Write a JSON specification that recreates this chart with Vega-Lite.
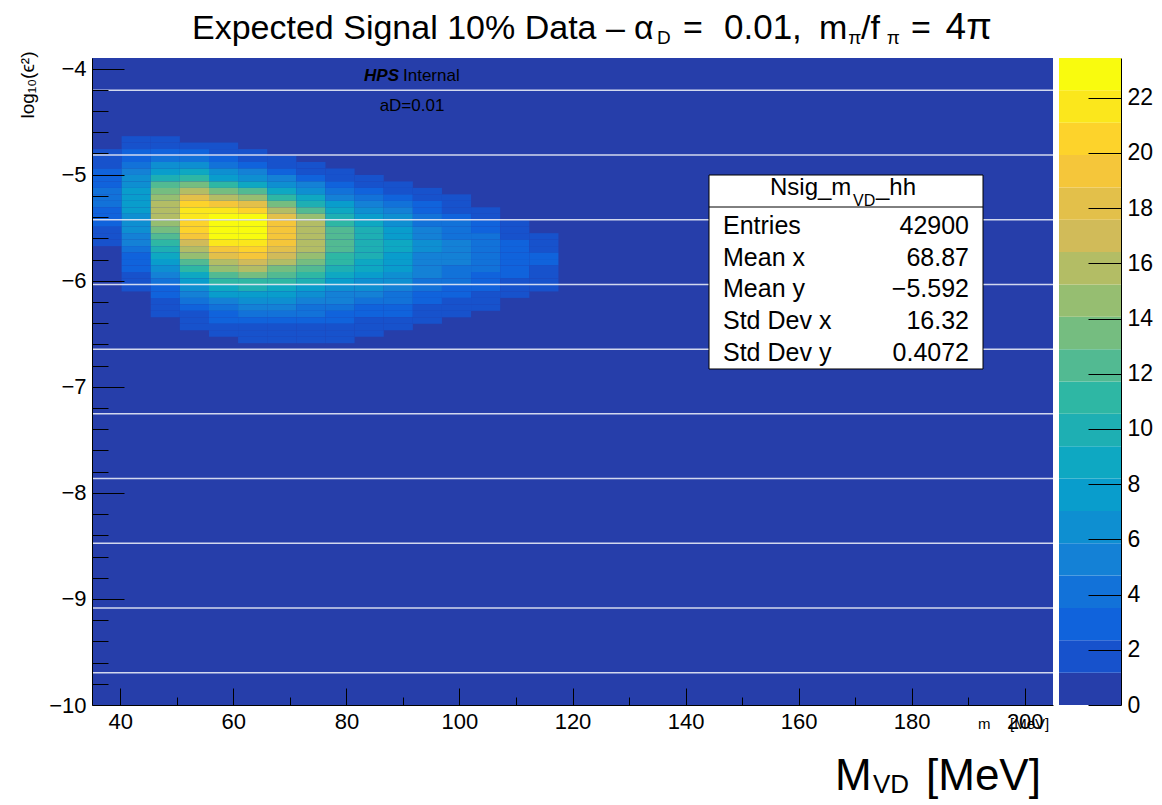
{
  "$schema": "https://vega.github.io/schema/vega-lite/v6.json",
  "width": 961,
  "height": 647,
  "autosize": "none",
  "padding": {"left": 92, "top": 58, "right": 109, "bottom": 100},
  "background": "white",
  "config": {
    "view": {"fill": "#263eaa", "stroke": null},
    "axis": {
      "grid": false, "domainColor": "#000", "domainWidth": 1, "tickColor": "#000", "tickWidth": 1,
      "labelColor": "#000", "labelFont": "Liberation Sans", "labelFontSize": 22,
      "labelOverlap": false, "labelFlush": false, "labelBound": false,
      "titleFont": "Liberation Sans", "titleColor": "#000"
    },
    "text": {"font": "Liberation Sans", "color": "#000"}
  },
  "datasets": {
    "nsig": [
      {"m":37.576,"e":-4.7845,"n":1.31},{"m":37.576,"e":-4.8455,"n":1.73},{"m":37.576,"e":-4.9065,"n":2.20},{"m":37.576,"e":-4.9675,"n":2.68},{"m":37.576,"e":-5.0285,"n":3.12},{"m":37.576,"e":-5.0895,"n":3.48},{"m":37.576,"e":-5.1505,"n":3.72},{"m":37.576,"e":-5.2115,"n":3.80},{"m":37.576,"e":-5.2725,"n":3.72},{"m":37.576,"e":-5.3335,"n":3.49},{"m":37.576,"e":-5.3945,"n":3.14},{"m":37.576,"e":-5.4555,"n":2.71},{"m":37.576,"e":-5.5165,"n":2.23},{"m":37.576,"e":-5.5775,"n":1.77},{"m":37.576,"e":-5.6385,"n":1.35},
      {"m":42.727,"e":-4.6625,"n":1.30},{"m":42.727,"e":-4.7235,"n":1.89},{"m":42.727,"e":-4.7845,"n":2.61},{"m":42.727,"e":-4.8455,"n":3.47},{"m":42.727,"e":-4.9065,"n":4.41},{"m":42.727,"e":-4.9675,"n":5.36},{"m":42.727,"e":-5.0285,"n":6.25},{"m":42.727,"e":-5.0895,"n":6.97},{"m":42.727,"e":-5.1505,"n":7.44},{"m":42.727,"e":-5.2115,"n":7.60},{"m":42.727,"e":-5.2725,"n":7.53},{"m":42.727,"e":-5.3335,"n":7.31},{"m":42.727,"e":-5.3945,"n":6.97},{"m":42.727,"e":-5.4555,"n":6.51},{"m":42.727,"e":-5.5165,"n":5.97},{"m":42.727,"e":-5.5775,"n":5.36},{"m":42.727,"e":-5.6385,"n":4.73},{"m":42.727,"e":-5.6995,"n":4.09},{"m":42.727,"e":-5.7605,"n":3.47},{"m":42.727,"e":-5.8215,"n":2.89},{"m":42.727,"e":-5.8825,"n":2.36},{"m":42.727,"e":-5.9435,"n":1.89},{"m":42.727,"e":-6.0045,"n":1.48},{"m":42.727,"e":-6.0655,"n":1.20},
      {"m":47.879,"e":-4.6625,"n":1.41},{"m":47.879,"e":-4.7235,"n":2.19},{"m":47.879,"e":-4.7845,"n":3.23},{"m":47.879,"e":-4.8455,"n":4.58},{"m":47.879,"e":-4.9065,"n":6.22},{"m":47.879,"e":-4.9675,"n":8.07},{"m":47.879,"e":-5.0285,"n":10.04},{"m":47.879,"e":-5.0895,"n":11.95},{"m":47.879,"e":-5.1505,"n":13.61},{"m":47.879,"e":-5.2115,"n":14.85},{"m":47.879,"e":-5.2725,"n":15.52},{"m":47.879,"e":-5.3335,"n":15.56},{"m":47.879,"e":-5.3945,"n":15.26},{"m":47.879,"e":-5.4555,"n":14.68},{"m":47.879,"e":-5.5165,"n":13.86},{"m":47.879,"e":-5.5775,"n":12.82},{"m":47.879,"e":-5.6385,"n":11.64},{"m":47.879,"e":-5.6995,"n":10.36},{"m":47.879,"e":-5.7605,"n":9.05},{"m":47.879,"e":-5.8215,"n":7.75},{"m":47.879,"e":-5.8825,"n":6.51},{"m":47.879,"e":-5.9435,"n":5.37},{"m":47.879,"e":-6.0045,"n":4.34},{"m":47.879,"e":-6.0655,"n":3.44},{"m":47.879,"e":-6.1265,"n":2.67},{"m":47.879,"e":-6.1875,"n":2.04},{"m":47.879,"e":-6.2485,"n":1.52},{"m":47.879,"e":-6.3095,"n":1.20},
      {"m":53.030,"e":-4.7235,"n":1.93},{"m":53.030,"e":-4.7845,"n":2.98},{"m":53.030,"e":-4.8455,"n":4.42},{"m":53.030,"e":-4.9065,"n":6.26},{"m":53.030,"e":-4.9675,"n":8.49},{"m":53.030,"e":-5.0285,"n":11.02},{"m":53.030,"e":-5.0895,"n":13.70},{"m":53.030,"e":-5.1505,"n":16.31},{"m":53.030,"e":-5.2115,"n":18.59},{"m":53.030,"e":-5.2725,"n":20.28},{"m":53.030,"e":-5.3335,"n":21.18},{"m":53.030,"e":-5.3945,"n":21.25},{"m":53.030,"e":-5.4555,"n":20.84},{"m":53.030,"e":-5.5165,"n":20.05},{"m":53.030,"e":-5.5775,"n":18.92},{"m":53.030,"e":-5.6385,"n":17.51},{"m":53.030,"e":-5.6995,"n":15.89},{"m":53.030,"e":-5.7605,"n":14.15},{"m":53.030,"e":-5.8215,"n":12.36},{"m":53.030,"e":-5.8825,"n":10.58},{"m":53.030,"e":-5.9435,"n":8.89},{"m":53.030,"e":-6.0045,"n":7.33},{"m":53.030,"e":-6.0655,"n":5.92},{"m":53.030,"e":-6.1265,"n":4.69},{"m":53.030,"e":-6.1875,"n":3.65},{"m":53.030,"e":-6.2485,"n":2.78},{"m":53.030,"e":-6.3095,"n":2.08},{"m":53.030,"e":-6.3705,"n":1.53},{"m":53.030,"e":-6.4315,"n":1.20},
      {"m":58.182,"e":-4.7235,"n":1.25},{"m":58.182,"e":-4.7845,"n":1.90},{"m":58.182,"e":-4.8455,"n":2.90},{"m":58.182,"e":-4.9065,"n":4.30},{"m":58.182,"e":-4.9675,"n":5.90},{"m":58.182,"e":-5.0285,"n":7.98},{"m":58.182,"e":-5.0895,"n":10.59},{"m":58.182,"e":-5.1505,"n":13.46},{"m":58.182,"e":-5.2115,"n":16.37},{"m":58.182,"e":-5.2725,"n":19.07},{"m":58.182,"e":-5.3335,"n":21.27},{"m":58.182,"e":-5.3945,"n":22.70},{"m":58.182,"e":-5.4555,"n":23.20},{"m":58.182,"e":-5.5165,"n":22.98},{"m":58.182,"e":-5.5775,"n":22.32},{"m":58.182,"e":-5.6385,"n":21.27},{"m":58.182,"e":-5.6995,"n":19.87},{"m":58.182,"e":-5.7605,"n":18.21},{"m":58.182,"e":-5.8215,"n":16.37},{"m":58.182,"e":-5.8825,"n":14.44},{"m":58.182,"e":-5.9435,"n":12.49},{"m":58.182,"e":-6.0045,"n":10.59},{"m":58.182,"e":-6.0655,"n":8.81},{"m":58.182,"e":-6.1265,"n":7.19},{"m":58.182,"e":-6.1875,"n":5.76},{"m":58.182,"e":-6.2485,"n":4.52},{"m":58.182,"e":-6.3095,"n":3.48},{"m":58.182,"e":-6.3705,"n":2.63},{"m":58.182,"e":-6.4315,"n":1.95},{"m":58.182,"e":-6.4925,"n":1.41},
      {"m":63.333,"e":-4.7845,"n":1.32},{"m":63.333,"e":-4.8455,"n":2.12},{"m":63.333,"e":-4.9065,"n":3.28},{"m":63.333,"e":-4.9675,"n":4.86},{"m":63.333,"e":-5.0285,"n":6.88},{"m":63.333,"e":-5.0895,"n":9.34},{"m":63.333,"e":-5.1505,"n":12.13},{"m":63.333,"e":-5.2115,"n":15.08},{"m":63.333,"e":-5.2725,"n":17.95},{"m":63.333,"e":-5.3335,"n":20.46},{"m":63.333,"e":-5.3945,"n":22.32},{"m":63.333,"e":-5.4555,"n":23.44},{"m":63.333,"e":-5.5165,"n":23.38},{"m":63.333,"e":-5.5775,"n":22.94},{"m":63.333,"e":-5.6385,"n":22.06},{"m":63.333,"e":-5.6995,"n":20.82},{"m":63.333,"e":-5.7605,"n":19.27},{"m":63.333,"e":-5.8215,"n":17.49},{"m":63.333,"e":-5.8825,"n":15.57},{"m":63.333,"e":-5.9435,"n":13.60},{"m":63.333,"e":-6.0045,"n":11.65},{"m":63.333,"e":-6.0655,"n":9.79},{"m":63.333,"e":-6.1265,"n":8.06},{"m":63.333,"e":-6.1875,"n":6.52},{"m":63.333,"e":-6.2485,"n":5.17},{"m":63.333,"e":-6.3095,"n":4.02},{"m":63.333,"e":-6.3705,"n":3.06},{"m":63.333,"e":-6.4315,"n":2.29},{"m":63.333,"e":-6.4925,"n":1.68},{"m":63.333,"e":-6.5535,"n":1.21},
      {"m":68.485,"e":-4.8455,"n":1.43},{"m":68.485,"e":-4.9065,"n":2.25},{"m":68.485,"e":-4.9675,"n":3.41},{"m":68.485,"e":-5.0285,"n":4.94},{"m":68.485,"e":-5.0895,"n":6.85},{"m":68.485,"e":-5.1505,"n":9.09},{"m":68.485,"e":-5.2115,"n":11.54},{"m":68.485,"e":-5.2725,"n":14.05},{"m":68.485,"e":-5.3335,"n":16.36},{"m":68.485,"e":-5.3945,"n":18.24},{"m":68.485,"e":-5.4555,"n":19.47},{"m":68.485,"e":-5.5165,"n":19.90},{"m":68.485,"e":-5.5775,"n":19.71},{"m":68.485,"e":-5.6385,"n":19.14},{"m":68.485,"e":-5.6995,"n":18.24},{"m":68.485,"e":-5.7605,"n":17.04},{"m":68.485,"e":-5.8215,"n":15.62},{"m":68.485,"e":-5.8825,"n":14.05},{"m":68.485,"e":-5.9435,"n":12.38},{"m":68.485,"e":-6.0045,"n":10.71},{"m":68.485,"e":-6.0655,"n":9.09},{"m":68.485,"e":-6.1265,"n":7.56},{"m":68.485,"e":-6.1875,"n":6.17},{"m":68.485,"e":-6.2485,"n":4.94},{"m":68.485,"e":-6.3095,"n":3.88},{"m":68.485,"e":-6.3705,"n":2.99},{"m":68.485,"e":-6.4315,"n":2.25},{"m":68.485,"e":-6.4925,"n":1.67},{"m":68.485,"e":-6.5535,"n":1.21},
      {"m":73.636,"e":-4.9065,"n":1.47},{"m":73.636,"e":-4.9675,"n":2.27},{"m":73.636,"e":-5.0285,"n":3.36},{"m":73.636,"e":-5.0895,"n":4.76},{"m":73.636,"e":-5.1505,"n":6.45},{"m":73.636,"e":-5.2115,"n":8.38},{"m":73.636,"e":-5.2725,"n":10.42},{"m":73.636,"e":-5.3335,"n":12.41},{"m":73.636,"e":-5.3945,"n":14.14},{"m":73.636,"e":-5.4555,"n":15.43},{"m":73.636,"e":-5.5165,"n":16.11},{"m":73.636,"e":-5.5775,"n":16.16},{"m":73.636,"e":-5.6385,"n":15.85},{"m":73.636,"e":-5.6995,"n":15.25},{"m":73.636,"e":-5.7605,"n":14.39},{"m":73.636,"e":-5.8215,"n":13.32},{"m":73.636,"e":-5.8825,"n":12.09},{"m":73.636,"e":-5.9435,"n":10.76},{"m":73.636,"e":-6.0045,"n":9.40},{"m":73.636,"e":-6.0655,"n":8.05},{"m":73.636,"e":-6.1265,"n":6.76},{"m":73.636,"e":-6.1875,"n":5.57},{"m":73.636,"e":-6.2485,"n":4.50},{"m":73.636,"e":-6.3095,"n":3.57},{"m":73.636,"e":-6.3705,"n":2.78},{"m":73.636,"e":-6.4315,"n":2.12},{"m":73.636,"e":-6.4925,"n":1.58},{"m":73.636,"e":-6.5535,"n":1.20},
      {"m":78.788,"e":-4.9675,"n":1.40},{"m":78.788,"e":-5.0285,"n":2.12},{"m":78.788,"e":-5.0895,"n":3.08},{"m":78.788,"e":-5.1505,"n":4.27},{"m":78.788,"e":-5.2115,"n":5.66},{"m":78.788,"e":-5.2725,"n":7.19},{"m":78.788,"e":-5.3335,"n":8.75},{"m":78.788,"e":-5.3945,"n":10.19},{"m":78.788,"e":-5.4555,"n":11.37},{"m":78.788,"e":-5.5165,"n":12.13},{"m":78.788,"e":-5.5775,"n":12.40},{"m":78.788,"e":-5.6385,"n":12.28},{"m":78.788,"e":-5.6995,"n":11.93},{"m":78.788,"e":-5.7605,"n":11.37},{"m":78.788,"e":-5.8215,"n":10.62},{"m":78.788,"e":-5.8825,"n":9.74},{"m":78.788,"e":-5.9435,"n":8.75},{"m":78.788,"e":-6.0045,"n":7.72},{"m":78.788,"e":-6.0655,"n":6.67},{"m":78.788,"e":-6.1265,"n":5.66},{"m":78.788,"e":-6.1875,"n":4.71},{"m":78.788,"e":-6.2485,"n":3.84},{"m":78.788,"e":-6.3095,"n":3.08},{"m":78.788,"e":-6.3705,"n":2.42},{"m":78.788,"e":-6.4315,"n":1.86},{"m":78.788,"e":-6.4925,"n":1.40},{"m":78.788,"e":-6.5535,"n":1.20},
      {"m":83.939,"e":-5.0285,"n":1.43},{"m":83.939,"e":-5.0895,"n":2.11},{"m":83.939,"e":-5.1505,"n":3.00},{"m":83.939,"e":-5.2115,"n":4.06},{"m":83.939,"e":-5.2725,"n":5.28},{"m":83.939,"e":-5.3335,"n":6.56},{"m":83.939,"e":-5.3945,"n":7.81},{"m":83.939,"e":-5.4555,"n":8.90},{"m":83.939,"e":-5.5165,"n":9.71},{"m":83.939,"e":-5.5775,"n":10.14},{"m":83.939,"e":-5.6385,"n":10.18},{"m":83.939,"e":-5.6995,"n":9.98},{"m":83.939,"e":-5.7605,"n":9.60},{"m":83.939,"e":-5.8215,"n":9.06},{"m":83.939,"e":-5.8825,"n":8.38},{"m":83.939,"e":-5.9435,"n":7.61},{"m":83.939,"e":-6.0045,"n":6.78},{"m":83.939,"e":-6.0655,"n":5.92},{"m":83.939,"e":-6.1265,"n":5.07},{"m":83.939,"e":-6.1875,"n":4.26},{"m":83.939,"e":-6.2485,"n":3.51},{"m":83.939,"e":-6.3095,"n":2.84},{"m":83.939,"e":-6.3705,"n":2.25},{"m":83.939,"e":-6.4315,"n":1.75},{"m":83.939,"e":-6.4925,"n":1.33},
      {"m":89.091,"e":-5.0895,"n":1.42},{"m":89.091,"e":-5.1505,"n":2.06},{"m":89.091,"e":-5.2115,"n":2.86},{"m":89.091,"e":-5.2725,"n":3.79},{"m":89.091,"e":-5.3335,"n":4.81},{"m":89.091,"e":-5.3945,"n":5.86},{"m":89.091,"e":-5.4555,"n":6.82},{"m":89.091,"e":-5.5165,"n":7.61},{"m":89.091,"e":-5.5775,"n":8.12},{"m":89.091,"e":-5.6385,"n":8.30},{"m":89.091,"e":-5.6995,"n":8.22},{"m":89.091,"e":-5.7605,"n":7.98},{"m":89.091,"e":-5.8215,"n":7.61},{"m":89.091,"e":-5.8825,"n":7.11},{"m":89.091,"e":-5.9435,"n":6.52},{"m":89.091,"e":-6.0045,"n":5.86},{"m":89.091,"e":-6.0655,"n":5.17},{"m":89.091,"e":-6.1265,"n":4.47},{"m":89.091,"e":-6.1875,"n":3.79},{"m":89.091,"e":-6.2485,"n":3.15},{"m":89.091,"e":-6.3095,"n":2.57},{"m":89.091,"e":-6.3705,"n":2.06},{"m":89.091,"e":-6.4315,"n":1.62},
      {"m":94.242,"e":-5.1505,"n":1.24},{"m":94.242,"e":-5.2115,"n":1.76},{"m":94.242,"e":-5.2725,"n":2.39},{"m":94.242,"e":-5.3335,"n":3.11},{"m":94.242,"e":-5.3945,"n":3.86},{"m":94.242,"e":-5.4555,"n":4.60},{"m":94.242,"e":-5.5165,"n":5.24},{"m":94.242,"e":-5.5775,"n":5.71},{"m":94.242,"e":-5.6385,"n":5.97},{"m":94.242,"e":-5.6995,"n":5.98},{"m":94.242,"e":-5.7605,"n":5.84},{"m":94.242,"e":-5.8215,"n":5.57},{"m":94.242,"e":-5.8825,"n":5.19},{"m":94.242,"e":-5.9435,"n":4.72},{"m":94.242,"e":-6.0045,"n":4.19},{"m":94.242,"e":-6.0655,"n":3.64},{"m":94.242,"e":-6.1265,"n":3.08},{"m":94.242,"e":-6.1875,"n":2.54},{"m":94.242,"e":-6.2485,"n":2.06},{"m":94.242,"e":-6.3095,"n":1.62},{"m":94.242,"e":-6.3705,"n":1.25},
      {"m":99.394,"e":-5.2115,"n":1.24},{"m":99.394,"e":-5.2725,"n":1.72},{"m":99.394,"e":-5.3335,"n":2.28},{"m":99.394,"e":-5.3945,"n":2.90},{"m":99.394,"e":-5.4555,"n":3.53},{"m":99.394,"e":-5.5165,"n":4.11},{"m":99.394,"e":-5.5775,"n":4.58},{"m":99.394,"e":-5.6385,"n":4.89},{"m":99.394,"e":-5.6995,"n":5.00},{"m":99.394,"e":-5.7605,"n":4.94},{"m":99.394,"e":-5.8215,"n":4.75},{"m":99.394,"e":-5.8825,"n":4.45},{"m":99.394,"e":-5.9435,"n":4.06},{"m":99.394,"e":-6.0045,"n":3.61},{"m":99.394,"e":-6.0655,"n":3.12},{"m":99.394,"e":-6.1265,"n":2.64},{"m":99.394,"e":-6.1875,"n":2.17},{"m":99.394,"e":-6.2485,"n":1.73},{"m":99.394,"e":-6.3095,"n":1.35},
      {"m":104.545,"e":-5.3335,"n":1.36},{"m":104.545,"e":-5.3945,"n":1.87},{"m":104.545,"e":-5.4555,"n":2.45},{"m":104.545,"e":-5.5165,"n":3.03},{"m":104.545,"e":-5.5775,"n":3.55},{"m":104.545,"e":-5.6385,"n":3.96},{"m":104.545,"e":-5.6995,"n":4.17},{"m":104.545,"e":-5.7605,"n":4.18},{"m":104.545,"e":-5.8215,"n":4.03},{"m":104.545,"e":-5.8825,"n":3.75},{"m":104.545,"e":-5.9435,"n":3.36},{"m":104.545,"e":-6.0045,"n":2.91},{"m":104.545,"e":-6.0655,"n":2.43},{"m":104.545,"e":-6.1265,"n":1.95},{"m":104.545,"e":-6.1875,"n":1.52},{"m":104.545,"e":-6.2485,"n":1.20},
      {"m":109.697,"e":-5.4555,"n":1.20},{"m":109.697,"e":-5.5165,"n":1.57},{"m":109.697,"e":-5.5775,"n":2.06},{"m":109.697,"e":-5.6385,"n":2.51},{"m":109.697,"e":-5.6995,"n":2.87},{"m":109.697,"e":-5.7605,"n":3.07},{"m":109.697,"e":-5.8215,"n":3.08},{"m":109.697,"e":-5.8825,"n":2.90},{"m":109.697,"e":-5.9435,"n":2.57},{"m":109.697,"e":-6.0045,"n":2.15},{"m":109.697,"e":-6.0655,"n":1.70},{"m":109.697,"e":-6.1265,"n":1.26},
      {"m":114.848,"e":-5.5775,"n":1.44},{"m":114.848,"e":-5.6385,"n":1.89},{"m":114.848,"e":-5.6995,"n":2.26},{"m":114.848,"e":-5.7605,"n":2.47},{"m":114.848,"e":-5.8215,"n":2.47},{"m":114.848,"e":-5.8825,"n":2.26},{"m":114.848,"e":-5.9435,"n":1.89},{"m":114.848,"e":-6.0045,"n":1.44},{"m":114.848,"e":-6.0655,"n":1.20}
    ],
    "seams": [
      {"s":-4.205},{"s":-4.815},{"s":-5.425},{"s":-6.035},{"s":-6.645},
      {"s":-7.255},{"s":-7.865},{"s":-8.475},{"s":-9.085},{"s":-9.695}
    ],
    "bands": [
      {"z0":0,"z1":1.172},{"z0":1.172,"z1":2.344},{"z0":2.344,"z1":3.516},{"z0":3.516,"z1":4.688},
      {"z0":4.688,"z1":5.86},{"z0":5.86,"z1":7.032},{"z0":7.032,"z1":8.204},{"z0":8.204,"z1":9.376},
      {"z0":9.376,"z1":10.548},{"z0":10.548,"z1":11.72},{"z0":11.72,"z1":12.892},{"z0":12.892,"z1":14.064},
      {"z0":14.064,"z1":15.236},{"z0":15.236,"z1":16.408},{"z0":16.408,"z1":17.58},{"z0":17.58,"z1":18.752},
      {"z0":18.752,"z1":19.924},{"z0":19.924,"z1":21.096},{"z0":21.096,"z1":22.268},{"z0":22.268,"z1":23.44}
    ]
  },
  "layer": [
    {
      "layer": [
        {
          "data": {"name": "nsig"},
          "mark": {"type": "rect"},
          "encoding": {
            "x": {
              "field": "m", "type": "quantitative",
              "bin": {"extent": [35, 205], "step": 5.151515, "nice": false},
              "scale": {"domain": [35, 205], "nice": false, "zero": false},
              "axis": {
                "title": null, "orient": "bottom", "zindex": 1,
                "values": [40,45,50,55,60,65,70,75,80,85,90,95,100,105,110,115,120,125,130,135,140,145,150,155,160,165,170,175,180,185,190,195,200,205],
                "tickSize": {"condition": {"test": "datum.value % 20 === 0", "value": -17}, "value": -8},
                "labelExpr": "datum.value % 20 === 0 ? format(datum.value, 'd') : ''",
                "labelPadding": 23, "labelBaseline": "top", "labelFontSize": 22
              }
            },
            "y": {
              "field": "e", "type": "quantitative",
              "bin": {"extent": [-10, -3.9], "step": 0.061, "nice": false},
              "scale": {"domain": [-10, -3.9], "nice": false, "zero": false},
              "axis": {
                "title": "log₁₀(ϵ²)", "orient": "left", "zindex": 1,
                "values": [-10,-9.8,-9.6,-9.4,-9.2,-9,-8.8,-8.6,-8.4,-8.2,-8,-7.8,-7.6,-7.4,-7.2,-7,-6.8,-6.6,-6.4,-6.2,-6,-5.8,-5.6,-5.4,-5.2,-5,-4.8,-4.6,-4.4,-4.2,-4],
                "tickSize": {"condition": {"test": "datum.value % 1 === 0", "value": -32}, "value": -16},
                "labelExpr": "datum.value % 1 === 0 ? format(datum.value, 'd') : ''",
                "labelPadding": 38, "labelFontSize": 22,
                "titleFontSize": 19, "titleFontWeight": "normal", "titleAnchor": "end", "titlePadding": 11, "titleY": -7
              }
            },
            "color": {
              "field": "n", "type": "quantitative",
              "scale": {
                "type": "threshold",
                "domain": [1.172,2.344,3.516,4.688,5.86,7.032,8.204,9.376,10.548,11.72,12.892,14.064,15.236,16.408,17.58,18.752,19.924,21.096,22.268],
                "range": ["#263eaa","#1752cc","#1063dc","#1272d9","#1481d6","#0e8fd1","#099dcc","#0ea8c2","#1eafb3","#2eb7a4","#52ba92","#75bd80","#96be71","#b3bd65","#d1bb59","#e3c04a","#f5c63a","#fdd32b","#fbe71c","#f9fb0e"]
              },
              "legend": null
            }
          }
        },
        {
          "data": {"name": "seams"},
          "mark": {"type": "rule", "color": "#e6e9f5", "strokeWidth": 1.5, "opacity": 0.9},
          "encoding": {"y": {"field": "s", "type": "quantitative"}}
        },
        {
          "data": {"values": [{}]},
          "mark": {"type": "rect", "fill": "white", "stroke": "black", "strokeWidth": 1},
          "encoding": {"x": {"datum": 144.148}, "x2": {"datum": 192.618}, "y": {"datum": -5.0031}, "y2": {"datum": -6.8321}}
        },
        {
          "data": {"values": [{}]},
          "mark": {"type": "rule", "color": "black", "strokeWidth": 1},
          "encoding": {"x": {"datum": 144.148}, "x2": {"datum": 192.618}, "y": {"datum": -5.3048}}
        },
        {
          "data": {"values": [{}]},
          "mark": {"type": "text", "align": "left", "baseline": "alphabetic", "fontSize": 24},
          "encoding": {"x": {"datum": 154.938}, "y": {"datum": -5.1916}, "text": {"value": "Nsig_m"}}
        },
        {
          "data": {"values": [{}]},
          "mark": {"type": "text", "align": "left", "baseline": "alphabetic", "fontSize": 16},
          "encoding": {"x": {"datum": 169.62}, "y": {"datum": -5.2954}, "text": {"value": "VD"}}
        },
        {
          "data": {"values": [{}]},
          "mark": {"type": "text", "align": "left", "baseline": "alphabetic", "fontSize": 24},
          "encoding": {"x": {"datum": 173.689}, "y": {"datum": -5.1916}, "text": {"value": "_hh"}}
        },
        {
          "data": {"values": [{}]},
          "mark": {"type": "text", "align": "left", "baseline": "alphabetic", "fontSize": 25, "lineHeight": 31.75},
          "encoding": {"x": {"datum": 146.624}, "y": {"datum": -5.5593}, "text": {"value": ["Entries", "Mean x", "Mean y", "Std Dev x", "Std Dev y"]}}
        },
        {
          "data": {"values": [{}]},
          "mark": {"type": "text", "align": "right", "baseline": "alphabetic", "fontSize": 25, "lineHeight": 31.75},
          "encoding": {"x": {"datum": 190.141}, "y": {"datum": -5.5593}, "text": {"value": ["42900", "68.87", "−5.592", "16.32", "0.4072"]}}
        },
        {
          "data": {"values": [{}]},
          "mark": {"type": "text", "align": "right", "baseline": "alphabetic", "fontSize": 17, "fontWeight": "bold", "fontStyle": "italic"},
          "encoding": {"x": {"datum": 89.309}, "y": {"datum": -4.1168}, "text": {"value": "HPS"}}
        },
        {
          "data": {"values": [{}]},
          "mark": {"type": "text", "align": "left", "baseline": "alphabetic", "fontSize": 17},
          "encoding": {"x": {"datum": 90.017}, "y": {"datum": -4.1168}, "text": {"value": "Internal"}}
        },
        {
          "data": {"values": [{}]},
          "mark": {"type": "text", "align": "center", "baseline": "alphabetic", "fontSize": 17},
          "encoding": {"x": {"datum": 91.609}, "y": {"datum": -4.3997}, "text": {"value": "aD=0.01"}}
        },
        {
          "data": {"values": [{}]},
          "mark": {"type": "text", "align": "left", "baseline": "alphabetic", "fontSize": 34},
          "encoding": {"x": {"datum": 52.69}, "y": {"datum": -3.7209}, "text": {"value": "Expected Signal 10% Data –"}}
        },
        {
          "data": {"values": [{}]},
          "mark": {"type": "text", "align": "left", "baseline": "alphabetic", "fontSize": 34},
          "encoding": {"x": {"datum": 130.88}, "y": {"datum": -3.7209}, "text": {"value": "α"}}
        },
        {
          "data": {"values": [{}]},
          "mark": {"type": "text", "align": "left", "baseline": "alphabetic", "fontSize": 19},
          "encoding": {"x": {"datum": 134.949}, "y": {"datum": -3.768}, "text": {"value": "D"}}
        },
        {
          "data": {"values": [{}]},
          "mark": {"type": "text", "align": "left", "baseline": "alphabetic", "fontSize": 34},
          "encoding": {"x": {"datum": 139.54}, "y": {"datum": -3.7209}, "text": {"value": "="}}
        },
        {
          "data": {"values": [{}]},
          "mark": {"type": "text", "align": "left", "baseline": "alphabetic", "fontSize": 35},
          "encoding": {"x": {"datum": 146.8}, "y": {"datum": -3.7209}, "text": {"value": "0.01,"}}
        },
        {
          "data": {"values": [{}]},
          "mark": {"type": "text", "align": "left", "baseline": "alphabetic", "fontSize": 34},
          "encoding": {"x": {"datum": 163.6}, "y": {"datum": -3.7209}, "text": {"value": "m"}}
        },
        {
          "data": {"values": [{}]},
          "mark": {"type": "text", "align": "left", "baseline": "alphabetic", "fontSize": 19},
          "encoding": {"x": {"datum": 168.8}, "y": {"datum": -3.768}, "text": {"value": "π"}}
        },
        {
          "data": {"values": [{}]},
          "mark": {"type": "text", "align": "left", "baseline": "alphabetic", "fontSize": 34},
          "encoding": {"x": {"datum": 171.036}, "y": {"datum": -3.7209}, "text": {"value": "/f"}}
        },
        {
          "data": {"values": [{}]},
          "mark": {"type": "text", "align": "left", "baseline": "alphabetic", "fontSize": 19},
          "encoding": {"x": {"datum": 175.6}, "y": {"datum": -3.768}, "text": {"value": "π"}}
        },
        {
          "data": {"values": [{}]},
          "mark": {"type": "text", "align": "left", "baseline": "alphabetic", "fontSize": 34},
          "encoding": {"x": {"datum": 179.9}, "y": {"datum": -3.7209}, "text": {"value": "="}}
        },
        {
          "data": {"values": [{}]},
          "mark": {"type": "text", "align": "left", "baseline": "alphabetic", "fontSize": 37},
          "encoding": {"x": {"datum": 186.0}, "y": {"datum": -3.7209}, "text": {"value": "4π"}}
        },
        {
          "data": {"values": [{}]},
          "mark": {"type": "text", "align": "left", "baseline": "alphabetic", "fontSize": 44},
          "encoding": {"x": {"datum": 166.437}, "y": {"datum": -10.8013}, "text": {"value": "M"}}
        },
        {
          "data": {"values": [{}]},
          "mark": {"type": "text", "align": "left", "baseline": "alphabetic", "fontSize": 26},
          "encoding": {"x": {"datum": 173.159}, "y": {"datum": -10.8296}, "text": {"value": "VD"}}
        },
        {
          "data": {"values": [{}]},
          "mark": {"type": "text", "align": "left", "baseline": "alphabetic", "fontSize": 44},
          "encoding": {"x": {"datum": 182.535}, "y": {"datum": -10.8013}, "text": {"value": "[MeV]"}}
        },
        {
          "data": {"values": [{}]},
          "mark": {"type": "text", "align": "left", "baseline": "alphabetic", "fontSize": 15},
          "encoding": {"x": {"datum": 191.73}, "y": {"datum": -10.2263}, "text": {"value": "m"}}
        },
        {
          "data": {"values": [{}]},
          "mark": {"type": "text", "align": "left", "baseline": "alphabetic", "fontSize": 15},
          "encoding": {"x": {"datum": 197.39}, "y": {"datum": -10.2263}, "text": {"value": "[MeV]"}}
        }
      ]
    },
    {
      "layer": [
        {
          "data": {"name": "bands"},
          "mark": {"type": "rect"},
          "encoding": {
            "x": {"datum": 206.062},
            "x2": {"datum": 217.03},
            "y": {
              "field": "z0", "type": "quantitative",
              "scale": {"domain": [0, 23.44], "nice": false, "zero": false},
              "axis": {
                "orient": "right", "offset": 68, "title": null, "zindex": 1,
                "values": [0,2,4,6,8,10,12,14,16,18,20,22],
                "tickSize": -33, "labelPadding": 39, "labelFontSize": 23,
                "labelAlign": "left", "labelBaseline": "middle"
              }
            },
            "y2": {"field": "z1"},
            "color": {
              "field": "z0", "type": "quantitative",
              "scale": {
                "type": "threshold",
                "domain": [1.172,2.344,3.516,4.688,5.86,7.032,8.204,9.376,10.548,11.72,12.892,14.064,15.236,16.408,17.58,18.752,19.924,21.096,22.268],
                "range": ["#263eaa","#1752cc","#1063dc","#1272d9","#1481d6","#0e8fd1","#099dcc","#0ea8c2","#1eafb3","#2eb7a4","#52ba92","#75bd80","#96be71","#b3bd65","#d1bb59","#e3c04a","#f5c63a","#fdd32b","#fbe71c","#f9fb0e"]
              },
              "legend": null
            }
          }
        }
      ]
    }
  ],
  "resolve": {"scale": {"y": "independent"}}
}
